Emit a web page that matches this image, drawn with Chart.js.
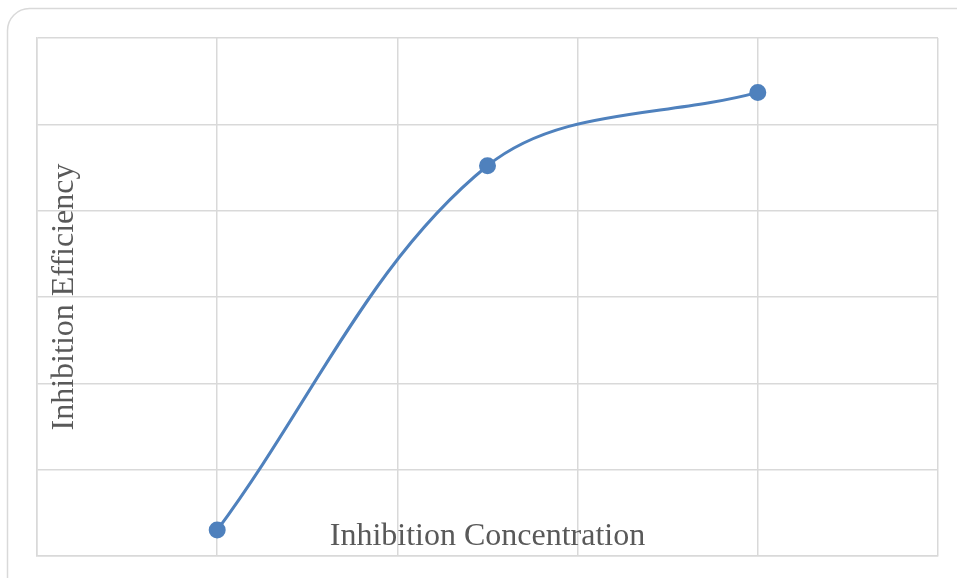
<!DOCTYPE html>
<html>
<head>
<meta charset="utf-8">
<script src="https://cdn.jsdelivr.net/npm/chart.js@4"></script>
<style>
  body { margin: 0; background: #fff; }
  #wrap { width: 957px; height: 578px; }
</style>
</head>
<body>
<div id="wrap"><canvas id="myChart" width="957" height="578"></canvas></div>
<script>
// data
const concentration = [1, 2.5, 4];
const efficiency = [0.3, 4.52, 5.37];
const xTitle = 'Inhibition Concentration';
const yTitle = 'Inhibition Efficiency';

const points = concentration.map((x, i) => ({ x: x, y: efficiency[i] }));

// outer rounded frame + axis titles sitting inside the plot
const framePlugin = {
  id: 'frame',
  beforeDraw(chart) {
    const ctx = chart.ctx;
    ctx.save();
    ctx.strokeStyle = '#d9d9d9';
    ctx.lineWidth = 1.5;
    ctx.beginPath();
    ctx.roundRect(7.5, 8.5, 985, 600, 22);
    ctx.stroke();
    ctx.restore();
  },
  beforeDatasetsDraw(chart) {
    const ctx = chart.ctx;
    const a = chart.chartArea;
    ctx.save();
    ctx.fillStyle = '#595959';
    ctx.font = '32px "Liberation Serif", "Times New Roman", serif';
    ctx.textAlign = 'center';
    ctx.textBaseline = 'alphabetic';
    ctx.fillText(xTitle, (a.left + a.right) / 2, 545);
    ctx.translate(73, (a.top + a.bottom) / 2);
    ctx.rotate(-Math.PI / 2);
    ctx.fillText(yTitle, 0, 0);
    ctx.restore();
  }
};

const ctx = document.getElementById('myChart').getContext('2d');
const myChart = new Chart(ctx, {
  type: 'line',
  data: {
    datasets: [{
      data: points,
      borderColor: '#4f81bd',
      backgroundColor: '#4f81bd',
      borderWidth: 3,
      pointRadius: 7,
      pointHoverRadius: 7,
      tension: 0.35,
      fill: false
    }]
  },
  options: {
    responsive: false,
    animation: false,
    layout: { padding: { left: 37, top: 38, right: 19, bottom: 22 } },
    plugins: { legend: { display: false }, tooltip: { enabled: false } },
    scales: {
      x: {
        type: 'linear', min: 0, max: 5,
        ticks: { display: false, stepSize: 1 },
        grid: { color: '#d9d9d9', lineWidth: 1.5, drawTicks: false },
        border: { color: '#d9d9d9', width: 1.5 }
      },
      y: {
        min: 0, max: 6,
        ticks: { display: false, stepSize: 1 },
        grid: { color: '#d9d9d9', lineWidth: 1.5, drawTicks: false },
        border: { color: '#d9d9d9', width: 1.5 }
      }
    }
  },
  plugins: [framePlugin]
});
</script>
</body>
</html>
